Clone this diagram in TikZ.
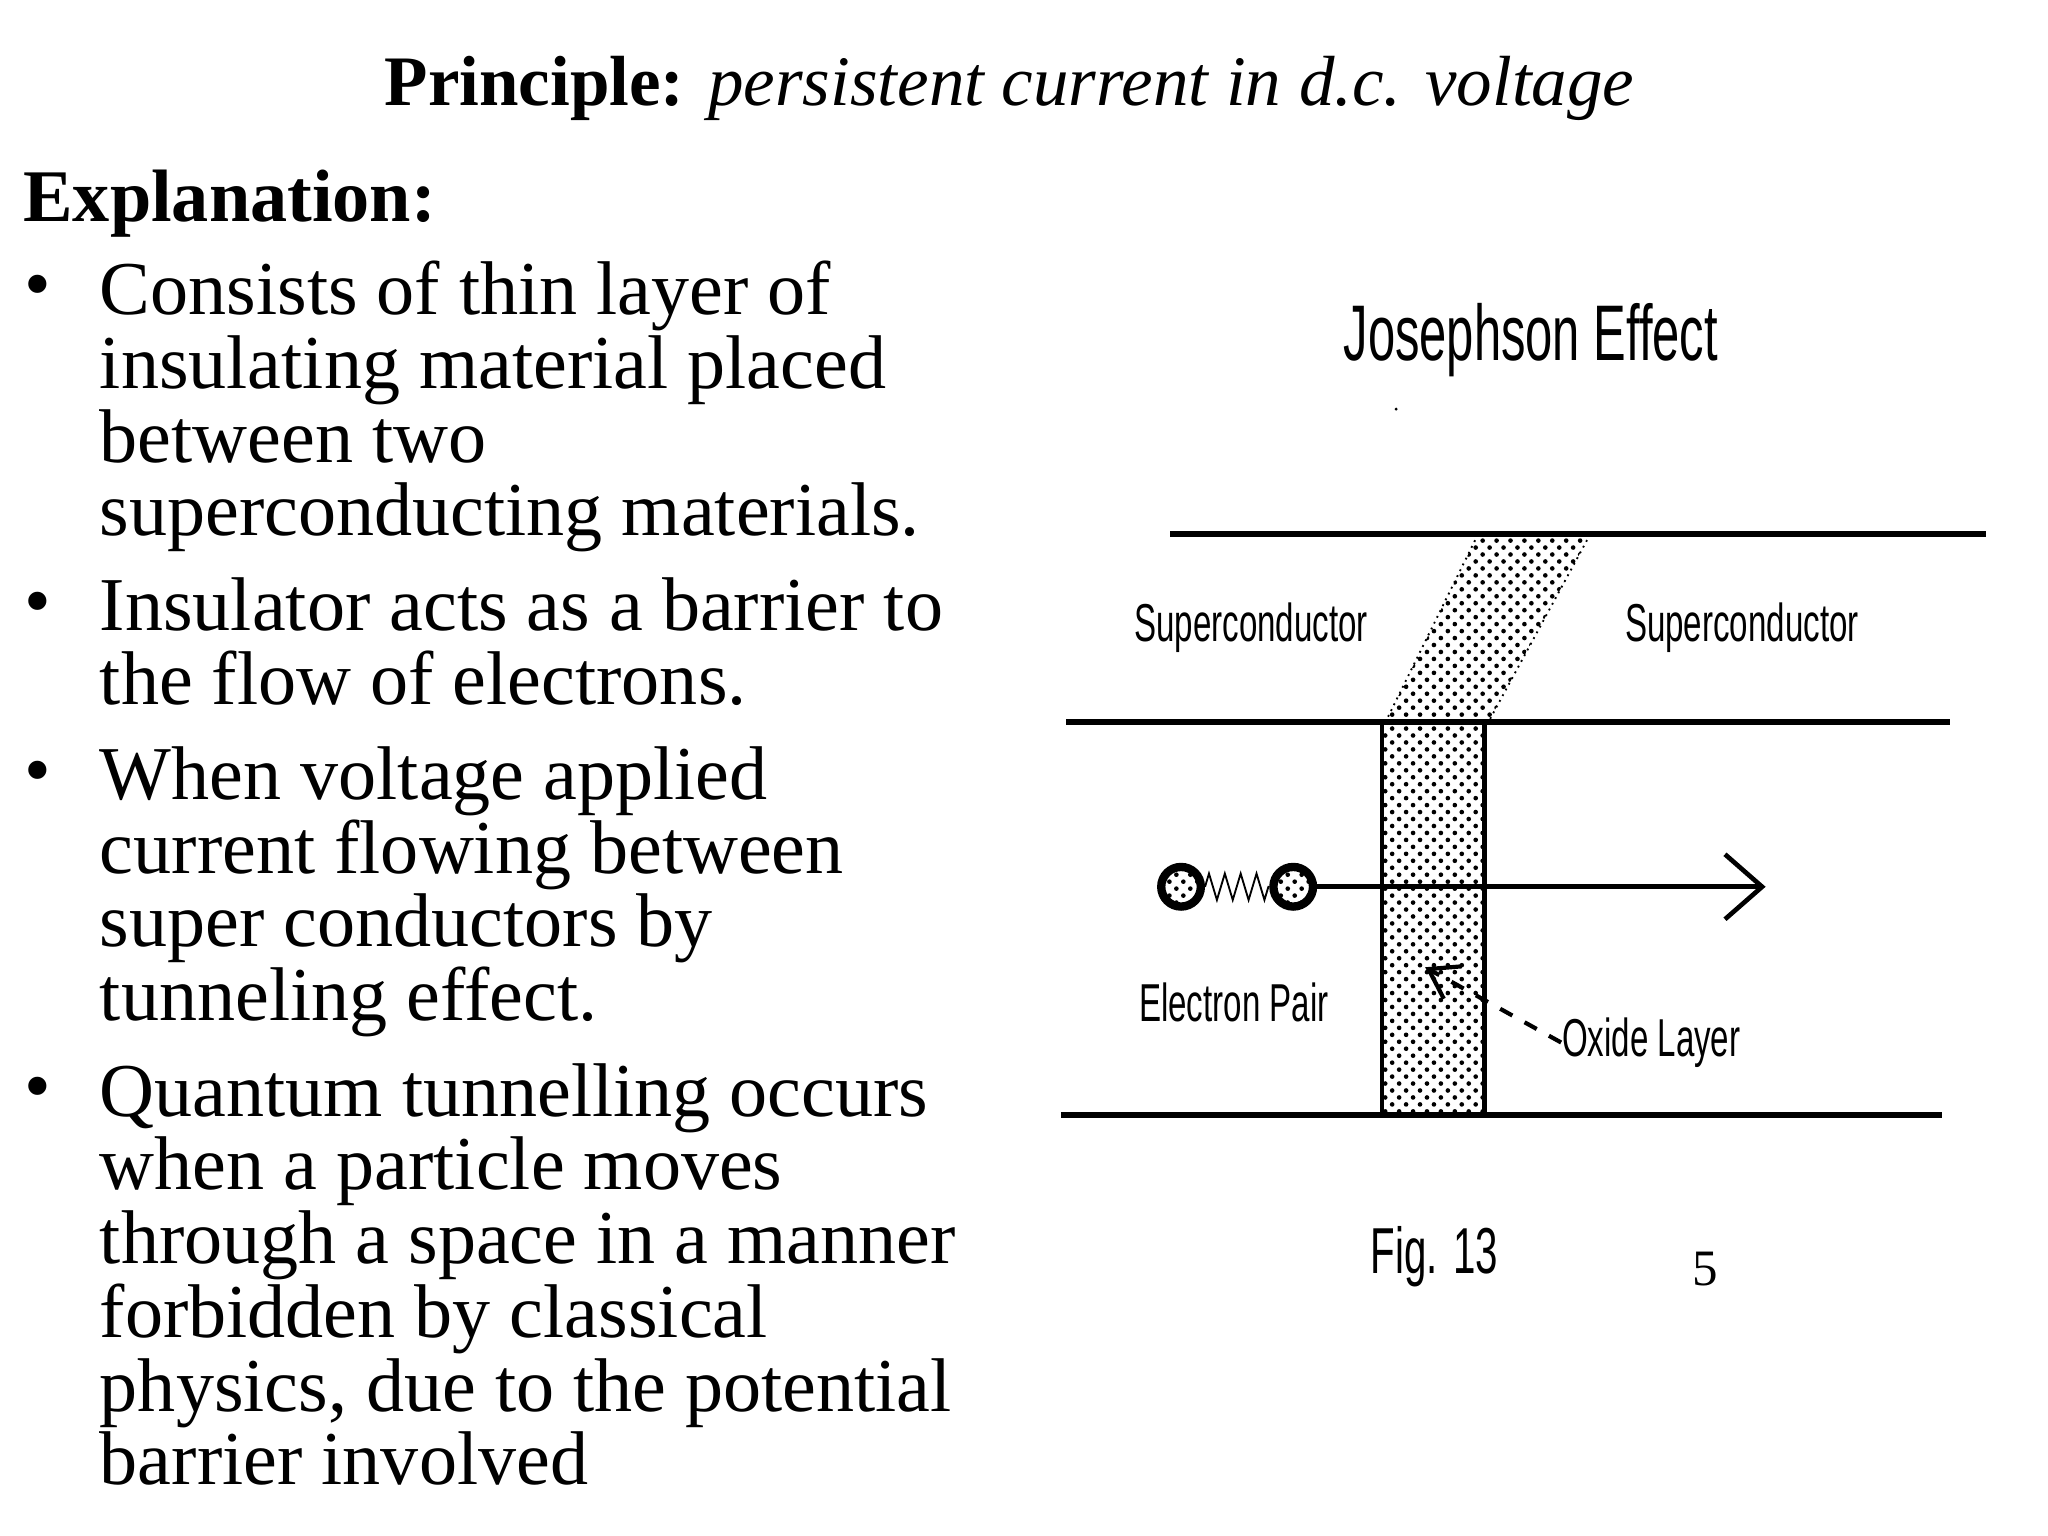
\documentclass[tikz,border=0pt]{standalone}
\usepackage{fontspec}
\setmainfont{Liberation Serif}
\newfontfamily\diag{Liberation Sans}
\usetikzlibrary{patterns,arrows.meta,decorations.pathmorphing}
\newcommand{\dl}[1]{\scalebox{0.62}[1]{\diag #1}}
\begin{document}
\begin{tikzpicture}[x=0.01cm,y=-0.01cm,
  body/.style={anchor=north west,align=left,font=\fontsize{16.4}{15.9}\selectfont,inner sep=0},
  bul/.style={anchor=north west,inner sep=0,font=\fontsize{16.4}{15.9}\selectfont},
  lbl/.style={font=\fontsize{11.5}{12}\selectfont,inner sep=0},
  ln/.style={line width=1.3pt},
  epart/.style={draw,circle,line width=1.8pt,minimum size=0.3cm,inner sep=0,pattern=crosshatch dots}]
\useasboundingbox (0,0) rectangle (1552,1164);
\node[anchor=base,inner sep=0,font=\fontsize{15.3}{16}\selectfont] (title) at (765,80) {\textbf{Principle:} \textit{persistent current in d.c. voltage}};
\node[anchor=base west,inner sep=0,font=\fontsize{16}{16}\bfseries\selectfont] (expl) at (17,168) {Explanation:};
\node[body] (b1) at (75,197) {Consists of thin layer of\\insulating material placed\\between two\\superconducting materials.};
\node[body] (b2) at (75,437) {Insulator acts as a barrier to\\the flow of electrons.};
\node[body] (b3) at (75,565) {When voltage applied\\current flowing between\\super conductors by\\tunneling effect.};
\node[body] (b4) at (75,805) {Quantum tunnelling occurs\\when a particle moves\\through a space in a manner\\forbidden by classical\\physics, due to the potential\\barrier involved};
\foreach \y in {208,448,576,816} \node[bul] at (18,\y) {•};
% diagram
\node[inner sep=0,font=\fontsize{17}{17}\selectfont] (jt) at (1160,258) {\dl{Josephson Effect}};
\fill (1058,310) circle (1.2);
\draw[ln] (887,405) -- (1505,405);
\draw[ln] (808,547) -- (1478,547);
\draw[ln] (804,845) -- (1472,845);
\fill[pattern=crosshatch dots] (1120,405) -- (1205,405) -- (1128,547) -- (1050,547) -- cycle;
\draw[densely dotted] (1120,405) -- (1050,547) (1205,405) -- (1128,547);
\fill[pattern=crosshatch dots] (1047,547) rectangle (1125,845);
\draw[line width=0.9pt] (1047,547) -- (1047,845) (1125,547) -- (1125,845);
\node[lbl] (s1) at (948,476) {\dl{Superconductor}};
\node[lbl] (s2) at (1320,476) {\dl{Superconductor}};
\node[epart] (e1) at (895,672) {};
\node[epart] (e2) at (980,672) {};
\draw[decorate,decoration={zigzag,segment length=0.12cm,amplitude=0.1cm}] (e1.east) -- (e2.west);
\coordinate (ae) at (1338,672);
\draw[line width=1pt,-{Straight Barb[length=8pt,width=14pt]}] (e2.east) -- (ae);
\node[lbl] (ep) at (935,760) {\dl{Electron Pair}};
\node[lbl,anchor=west] (ox) at (1183,790) {\dl{Oxide Layer}};
\coordinate (ot) at (1080,733);
\draw[dashed,line width=0.9pt,-{Straight Barb[length=6pt,width=8pt]}] (ox.west) -- (ot);
\node[lbl,font=\fontsize{14}{14}\selectfont] (fig) at (1087,952) {\dl{Fig. 13}};
\node[inner sep=0,font=\fontsize{11}{11}\selectfont] (pg) at (1292,962) {5};
\end{tikzpicture}
\end{document}
